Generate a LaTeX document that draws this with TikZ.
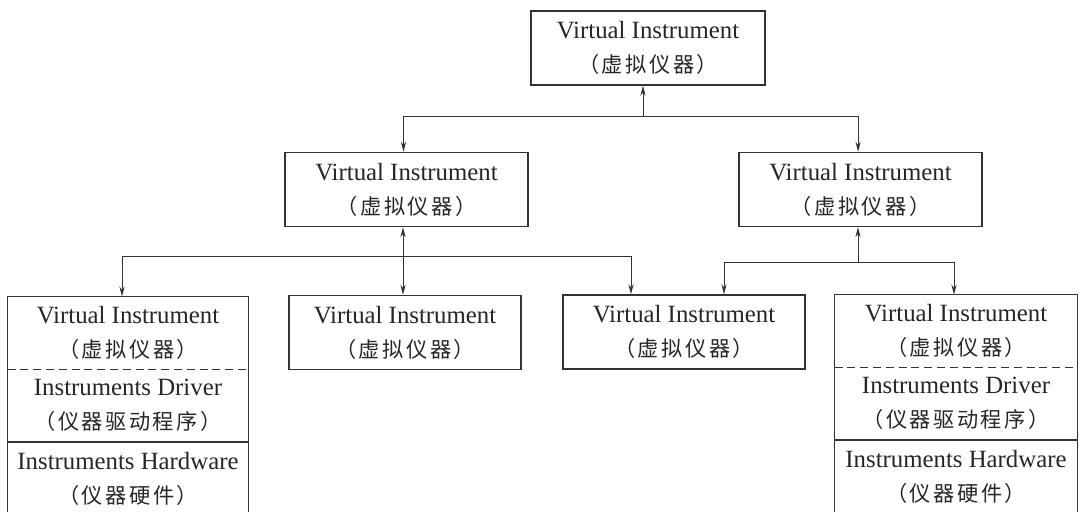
\documentclass[tikz,border=0pt]{standalone}
\usepackage{fontspec}
\setmainfont{Liberation Serif}
\newfontfamily\cjk[LetterSpace=12]{Noto Sans CJK SC}
\usetikzlibrary{positioning,arrows.meta}
\newcommand{\viText}{Virtual Instrument\\[1pt]{\cjk\fontsize{10.6}{14}\selectfont（虚拟仪器）}}
\newcommand{\drvText}{Instruments Driver\\[1pt]{\cjk\fontsize{10.6}{14}\selectfont（仪器驱动程序）}}
\newcommand{\hwText}{Instruments Hardware\\[1pt]{\cjk\fontsize{10.6}{14}\selectfont（仪器硬件）}}

\begin{document}
\begin{tikzpicture}[x=0.5pt,y=-0.5pt,
    box/.style={draw=black!80, line width=0.75pt, minimum width=#1, minimum height=37pt,
      inner sep=0pt, align=center, text=black!85, font=\fontsize{12.4}{16}\selectfont},
    part/.style={minimum width=#1, minimum height=36pt, inner sep=0pt, align=center,
      text=black!85, font=\fontsize{12.4}{16}\selectfont},
    frame/.style={draw=black!80, line width=0.75pt},
    link/.style={draw=black!80, line width=0.5pt, -{Stealth[length=5pt,width=2.6pt]}}]
    \useasboundingbox (0,0) rectangle (1084,512);

    %% upper levels
    \node[box=117pt] (top) at (648,48) {\viText};
    \node[box=121.5pt] (midL) at (406.5,189.5) {\viText};
    \node[box=121.5pt] (midR) at (860.5,189.5) {\viText};

    %% single boxes
    \node[box=116pt] (b2) at (405,332.5) {\viText};
    \node[box=121pt] (b3) at (684,332) {\viText};

    %% stacked boxes
    \node[part=120pt] (b1vi) at (128,333) {\viText};
    \node[part=120pt, below=0pt of b1vi] (b1drv) {\drvText};
    \node[part=120pt, below=0pt of b1drv] (b1hw) {\hwText};
    \node[part=121pt] (b4vi) at (956,331) {\viText};
    \node[part=121pt, below=0pt of b4vi] (b4drv) {\drvText};
    \node[part=121pt, below=0pt of b4drv] (b4hw) {\hwText};

    \foreach \s in {b1,b4}{
      \draw[frame] (\s hw.south west) -- (\s vi.north west) -- (\s vi.north east) -- (\s hw.south east);
      \draw[frame, dash pattern=on 4pt off 2.4pt] (\s vi.south west) -- (\s vi.south east);
      \draw[frame] (\s drv.south west) -- (\s drv.south east);
    }

    %% junctions
    \coordinate (j1) at (643,117);
    \coordinate (j2) at (403,257);
    \coordinate (j3) at (858,263);

    \draw[link] (j1) -- (j1 |- top.south);
    \draw[link] (j1) -| ([xshift=-1.5pt]midL.north);
    \draw[link] (j1) -| ([xshift=-1.2pt]midR.north);

    \draw[link] (j2) -- (j2 |- midL.south);
    \draw[link] (j2) -| ([xshift=-3pt]b1vi.north);
    \draw[link] (j2) -- (j2 |- b2.north);
    \draw[link] (j2) -| ([xshift=-26.5pt]b3.north);

    \draw[link] (j3) -- (j3 |- midR.south);
    \draw[link] (j3) -| ([xshift=20pt]b3.north);
    \draw[link] (j3) -| ([xshift=-1pt]b4vi.north);
\end{tikzpicture}
\end{document}
